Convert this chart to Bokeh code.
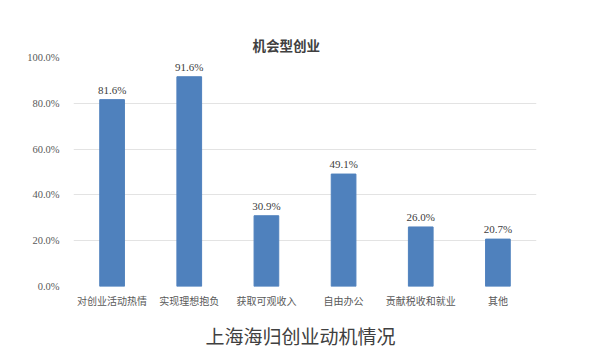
from bokeh.plotting import figure
from bokeh.models import ColumnDataSource, NumeralTickFormatter, FixedTicker, Range1d, LabelSet, Title
from bokeh.embed import file_html
from bokeh.resources import INLINE

categories = ["对创业活动热情", "实现理想抱负", "获取可观收入", "自由办公", "贡献税收和就业", "其他"]
values = [0.816, 0.916, 0.309, 0.491, 0.260, 0.207]
value_labels = ["81.6%", "91.6%", "30.9%", "49.1%", "26.0%", "20.7%"]
y_ticks = [0.0, 0.2, 0.4, 0.6, 0.8, 1.0]
chart_title = "机会型创业"
caption = "上海海归创业动机情况"

src = ColumnDataSource(dict(cat=categories, val=values, lab=value_labels))

p = figure(x_range=categories, y_range=Range1d(0, 1.0), width=600, height=359,
           output_backend="svg", toolbar_location=None,
           min_border_left=73, min_border_right=64, min_border_top=57, min_border_bottom=73)
p.background_fill_color = "white"
p.border_fill_color = "white"
p.outline_line_color = None

p.vbar(x="cat", top="val", width=0.32, source=src, fill_color="#4f81bd", line_color="#4f81bd")

labels = LabelSet(x="cat", y="val", text="lab", source=src, text_align="center",
                  text_baseline="bottom", y_offset=4, text_font="Liberation Serif",
                  text_font_size="11px", text_color="#404040")
p.add_layout(labels)

p.yaxis.ticker = FixedTicker(ticks=y_ticks)
p.yaxis.formatter = NumeralTickFormatter(format="0.0%")
p.yaxis.axis_line_color = None
p.yaxis.major_tick_line_color = None
p.yaxis.minor_tick_line_color = None
p.yaxis.major_label_standoff = 8
p.yaxis.major_label_text_font = "Liberation Serif"
p.yaxis.major_label_text_font_size = "10.5px"
p.yaxis.major_label_text_color = "#595959"

p.xaxis.axis_line_color = None
p.xaxis.major_tick_line_color = None
p.xaxis.minor_tick_line_color = None
p.xaxis.major_label_standoff = 0
p.xaxis.major_label_text_font = "Noto Sans CJK SC"
p.xaxis.major_label_text_font_size = "10px"
p.xaxis.major_label_text_color = "#595959"

p.xgrid.grid_line_color = None
p.ygrid.grid_line_color = "#e3e3e3"
p.ygrid.grid_line_width = 1

p.title = Title(text=chart_title, align="left", offset=179, standoff=6,
                text_font="Noto Sans CJK SC", text_font_size="13.5px", text_font_style="bold",
                text_color="#404040")
p.add_layout(Title(text=caption, align="left", offset=132, standoff=18,
                   text_font="Noto Sans CJK SC", text_font_size="19px", text_font_style="normal",
                   text_color="#404040"), "below")

open("out.html", "w").write(file_html(p, INLINE))
